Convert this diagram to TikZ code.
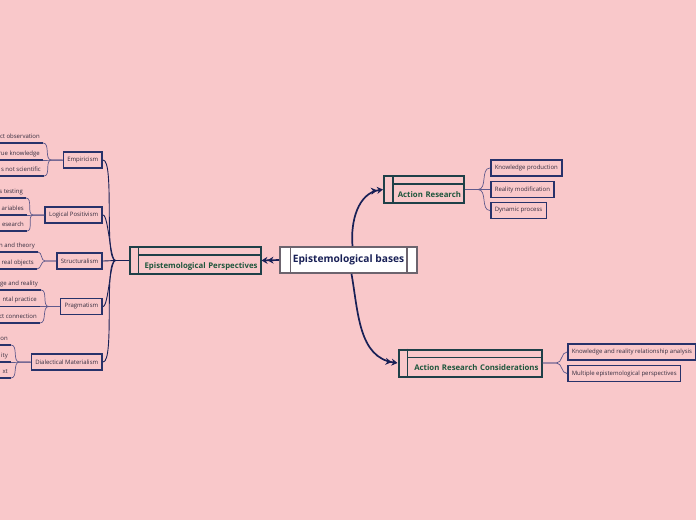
\documentclass[tikz,border=0pt]{standalone}
\usepackage{fontspec}
\setmainfont{Open Sans}
\usepackage{tikz}
\usetikzlibrary{arrows.meta, positioning, calc}
\definecolor{bgpink}{RGB}{249,200,202}
\definecolor{basenavy}{RGB}{24,32,86}
\definecolor{greyedge}{RGB}{108,100,110}
\definecolor{tealbox}{RGB}{30,64,72}
\definecolor{topicgreen}{RGB}{30,86,60}
\definecolor{leafedge}{RGB}{40,50,106}
\definecolor{leaftext}{RGB}{52,44,62}
\definecolor{forkline}{RGB}{96,90,140}

\begin{document}
\begin{tikzpicture}[x=1pt, y=-1pt,
  basebox/.style={rectangle, draw=greyedge, fill=white, line width=1.7pt, minimum width=137, minimum height=26, inner sep=0pt, font=\fontsize{10.2}{12}\selectfont\bfseries, text=basenavy},
  topicbox/.style={rectangle, draw=tealbox, line width=2pt, inner xsep=3, inner ysep=0pt, text height=21, text depth=6, align=right, font=\fontsize{7.8}{9}\selectfont\bfseries, text=topicgreen},
  midbox/.style={rectangle, draw=leafedge, line width=1.6pt, minimum height=16, inner xsep=4, inner ysep=0pt, font=\fontsize{6}{7}\selectfont, text=leaftext},
  underleaf/.style={anchor=south east, inner xsep=3, inner ysep=1.5, text height=5, text depth=3, font=\fontsize{6}{7}\selectfont, text=leaftext},
  underl/.style={draw=leafedge, line width=1.6pt},
  bigarrow/.style={-{Stealth[length=6pt,width=7pt]Stealth[length=6pt,width=7pt]}, line width=1.7pt, draw=basenavy},
  spine/.style={draw=basenavy, line width=0.9pt},
  fork/.style={draw=forkline, line width=0.7pt}
]
\useasboundingbox (0,0) rectangle (696,520);
\fill[bgpink] (0,0) rectangle (696,520);

% centre and main topics
\node[basebox] (base) at (348.5,260) {Epistemological bases};
\draw[greyedge, line width=1.3pt] ([xshift=11pt]base.north west) -- ([xshift=11pt]base.south west)
  ([xshift=-11pt]base.north east) -- ([xshift=-11pt]base.south east);

\node[topicbox, text width=125] (pers) at (195,260.5) {Epistemological Perspectives};
\node[topicbox, text width=74] (actres) at (424,189.5) {Action Research};
\node[topicbox, text width=137] (arcons) at (470,363) {Action Research Considerations};
\foreach \t in {pers,actres,arcons}
  \draw[tealbox, line width=1.4pt] ([xshift=10pt]\t.north west) -- ([xshift=10pt]\t.south west)
    ([xshift=10pt,yshift=-9pt]\t.north west) -- ([yshift=-9pt]\t.north east);

\draw[bigarrow] (base.west) -- (pers.east);
\draw[bigarrow] ([xshift=4pt]base.north) to[out=95,in=188] (actres.west);
\draw[bigarrow] ([xshift=3pt]base.south) to[out=-80,in=172] (arcons.west);

% left branch
\node[midbox, anchor=east] (emp) at (103,160) {Empiricism};
\node[midbox, anchor=east] (logpos) at (103,215) {Logical Positivism};
\node[midbox, anchor=east] (struct) at (103,261) {Structuralism};
\node[midbox, anchor=east] (prag) at (103,306.5) {Pragmatism};
\node[midbox, anchor=east] (dialmat) at (103,362) {Dialectical Materialism};
\foreach \m in {emp,logpos,struct,prag,dialmat}
  \draw[spine] (pers.west) -- ++(-13,0) to[out=180,in=0,looseness=0.3] (\m.east);

\node[underleaf] (e1) at (43,143) {ct observation};
\node[underleaf] (e2) at (43,160) {rue knowledge};
\node[underleaf] (e3) at (44,176) {s not scientific};
\node[underleaf] (l1) at (26,198) {s testing};
\node[underleaf] (l2) at (27,215) {ariables};
\node[underleaf] (l3) at (27,231) {esearch};
\node[underleaf] (s1) at (38,252) {n and theory};
\node[underleaf] (s2) at (37,269) {real objects};
\node[underleaf] (p1) at (41,290) {ge and reality};
\node[underleaf] (p2) at (40,306.5) {ntal practice};
\node[underleaf] (p3) at (40,323) {ct connection};
\node[underleaf] (d1) at (11,345) {on};
\node[underleaf] (d2) at (11,362) {ity};
\node[underleaf] (d3) at (11,378) {xt};
\foreach \lf in {e1,e2,e3,l1,l2,l3,s1,s2,p1,p2,p3,d1,d2,d3}
  \draw[underl] ([xshift=-40pt]\lf.south west) -- (\lf.south east);

\foreach \lf in {e1,e2,e3}
  \draw[fork] (emp.west) -- ++(-11,0) to[out=180,in=0] (\lf.south east);
\foreach \lf in {l1,l2,l3}
  \draw[fork] (logpos.west) -- ++(-11,0) to[out=180,in=0] (\lf.south east);
\foreach \lf in {s1,s2}
  \draw[fork] (struct.west) -- ++(-11,0) to[out=180,in=0] (\lf.south east);
\foreach \lf in {p1,p2,p3}
  \draw[fork] (prag.west) -- ++(-11,0) to[out=180,in=0] (\lf.south east);
\foreach \lf in {d1,d2,d3}
  \draw[fork] (dialmat.west) -- ++(-11,0) to[out=180,in=0] (\lf.south east);

% right branches
\node[midbox, anchor=west] (kprod) at (490,168) {Knowledge production};
\node[midbox, anchor=west] (realmod) at (490,189.5) {Reality modification};
\node[midbox, anchor=west] (dynproc) at (490,210.5) {Dynamic process};
\foreach \lf in {kprod,realmod,dynproc}
  \draw[fork] (actres.east) -- ++(13,0) to[out=0,in=180] (\lf.west);

\node[midbox, anchor=west] (krel) at (567,352) {Knowledge and reality relationship analysis};
\node[midbox, anchor=west] (multi) at (567,373.5) {Multiple epistemological perspectives};
\foreach \lf in {krel,multi}
  \draw[fork] (arcons.east) -- ++(14,0) to[out=0,in=180] (\lf.west);
\end{tikzpicture}
\end{document}
